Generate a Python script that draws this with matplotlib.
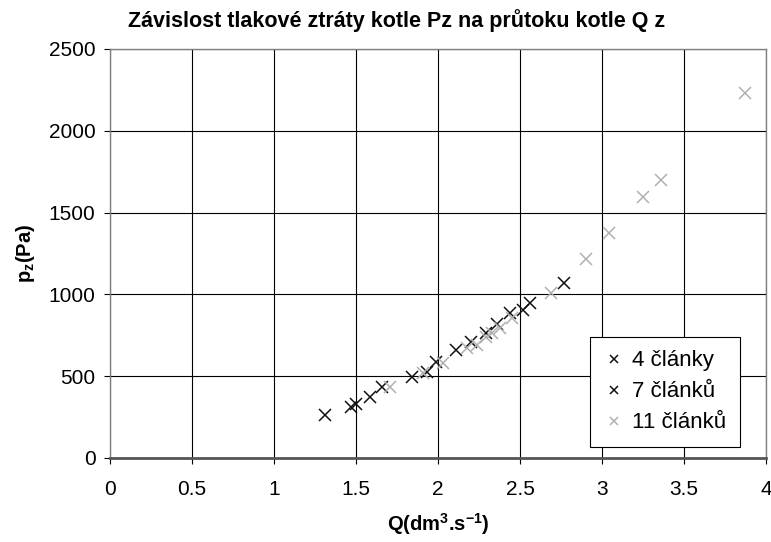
import matplotlib
matplotlib.use('Agg')
import matplotlib.pyplot as plt

plt.rcParams['font.family'] = ['Liberation Sans', 'DejaVu Sans']
plt.rcParams['mathtext.default'] = 'regular'

# 4 články
q4 = [1.31, 1.47, 1.50, 1.585, 1.84, 2.11, 2.29, 2.36, 2.52, 2.56, 2.77]
p4 = [263, 314, 330, 371, 497, 660, 765, 820, 905, 946, 1068]
# 7 článků
q7 = [1.66, 1.93, 1.99, 2.20, 2.44]
p7 = [436, 525, 589, 711, 885]
# 11 článků
q11 = [1.71, 1.91, 2.03, 2.175, 2.235, 2.29, 2.33, 2.38, 2.45, 2.69, 2.90, 3.04, 3.25, 3.36, 3.87]
p11 = [436, 521, 579, 673, 688, 740, 762, 793, 854, 1007, 1215, 1377, 1594, 1699, 2229]

xticks = [0, 0.5, 1, 1.5, 2, 2.5, 3, 3.5, 4]
yticks = [0, 500, 1000, 1500, 2000, 2500]

fig = plt.figure(figsize=(7.71, 5.42), dpi=100)
ax = fig.add_axes([0.1427, 0.155, 0.8508, 0.7546])

ax.plot(q4, p4, 'x', color='#111111', ms=8, mew=1.1, label='4 články', zorder=3)
ax.plot(q7, p7, 'x', color='#111111', ms=8, mew=1.1, label='7 článků', zorder=3)
ax.plot(q11, p11, 'x', color='#b0b0b0', ms=8, mew=1.1, label='11 článků', zorder=4)

ax.set_xlim(0, 4)
ax.set_ylim(0, 2500)
ax.set_xticks(xticks)
ax.set_xticklabels([f'{t:g}' for t in xticks])
ax.set_yticks(yticks)
ax.grid(True, color='black', linewidth=0.8)
ax.set_axisbelow(True)
for s in ax.spines.values():
    s.set_color('#808080')
    s.set_linewidth(1.0)
ax.spines['bottom'].set_linewidth(2.0)
ax.spines['bottom'].set_color('#555555')
ax.tick_params(direction='out', length=4.5, width=0.8, labelsize=15, colors='black', pad=6)
ax.tick_params(axis='x', pad=11)

fig.text(0.514, 0.963, 'Závislost tlakové ztráty kotle Pz na průtoku kotle Q z',
         fontsize=15.5, fontweight='bold', ha='center', va='center')
ax.set_xlabel('Q(dm$^3$.s$^{-1}$)', fontsize=14.5, fontweight='bold', labelpad=9)
ax.set_ylabel('p$_z$(Pa)', fontsize=14.5, fontweight='bold', labelpad=8)

leg = ax.legend(loc='upper left', bbox_to_anchor=(0.7317, 0.2958), borderaxespad=0,
                fontsize=16, frameon=True, fancybox=False, edgecolor='black',
                handlelength=1.0, handletextpad=0.3, borderpad=0.6,
                labelspacing=0.45, framealpha=1, markerscale=0.8)
leg.get_frame().set_linewidth(0.8)

fig.savefig('out.png', dpi=100)
